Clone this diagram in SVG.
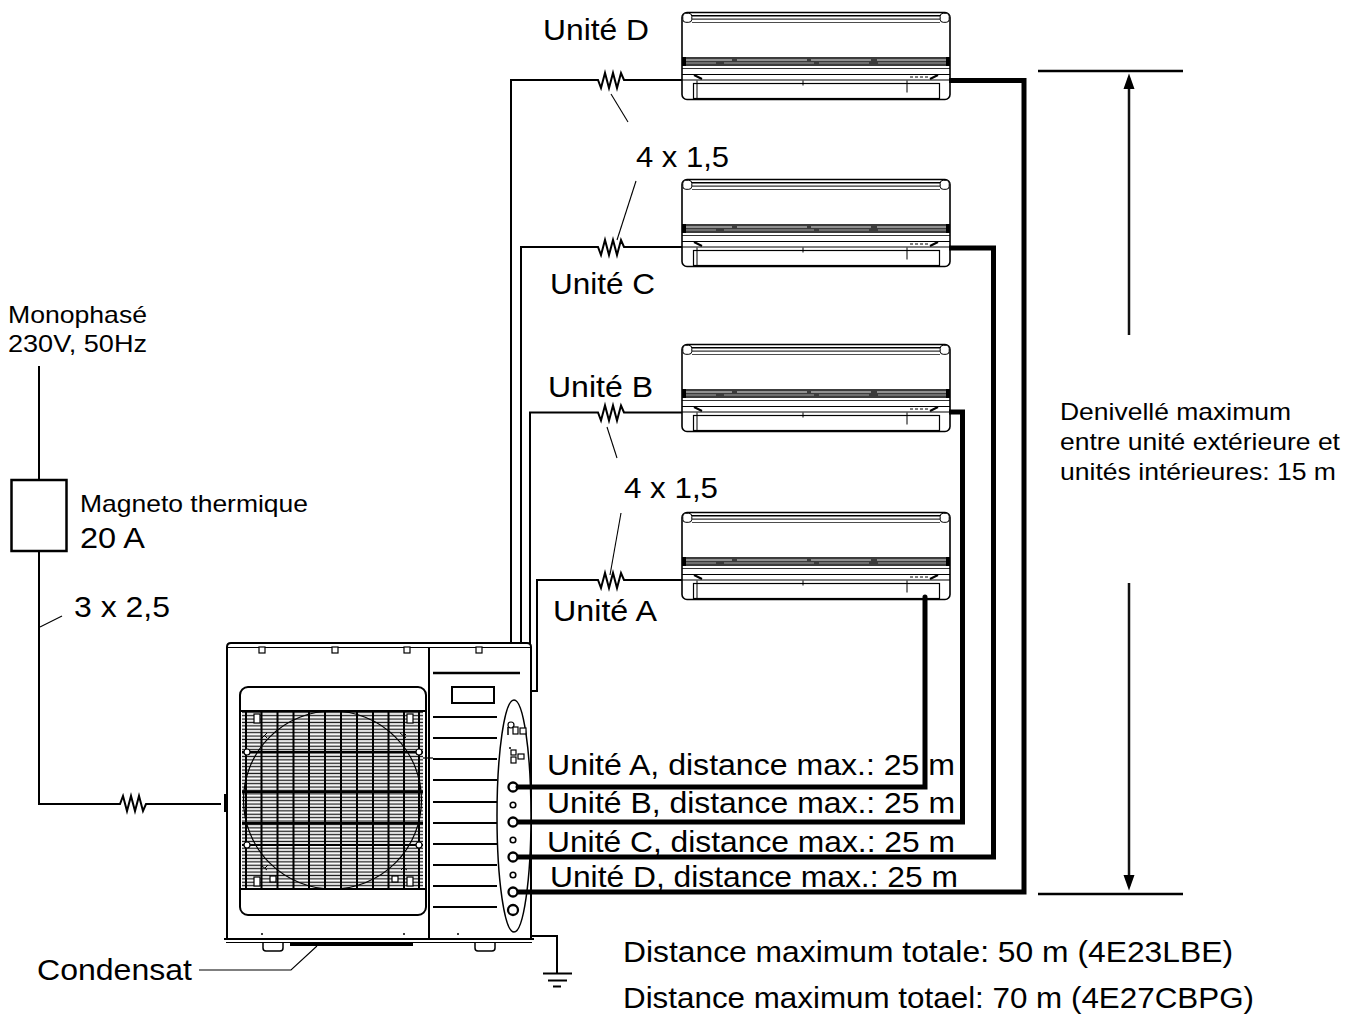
<svg xmlns="http://www.w3.org/2000/svg" xmlns:xlink="http://www.w3.org/1999/xlink" width="1361" height="1017" viewBox="0 0 1361 1017">
<style>
  .t { font-family: "Liberation Sans", Arial, Helvetica, sans-serif; fill: #000; }
  .lg { font-size: 29px; }
  .sm { font-size: 24px; }
  .wire { fill: none; stroke: #000; stroke-width: 2; stroke-linejoin: miter; }
  .pipe { fill: none; stroke: #000; stroke-width: 5; stroke-linejoin: miter; }
  .lead { fill: none; stroke: #000; stroke-width: 1.1; }
  .ln { fill: none; stroke: #000; }
  .wf { fill: #fff; stroke: #000; }
</style>
<defs>
  <marker id="arrowhead" markerUnits="userSpaceOnUse" markerWidth="16" markerHeight="12" viewBox="0 0 16 12" refX="11" refY="6" orient="auto">
    <path d="M0,0.5 L15.5,6 L0,11.5 Z" fill="#000"/>
  </marker>
  <pattern id="slats" patternUnits="userSpaceOnUse" x="0" y="711" width="10" height="3.4">
    <rect x="0" y="0.6" width="10" height="1.3" fill="#1a1a1a"/>
  </pattern>

  <!-- wall-mounted split unit, origin at top-left corner -->
  <g id="split-unit">
    <rect x="0" y="0" width="268" height="87" rx="5" class="wf" stroke-width="1.6"/>
    <rect x="0.8" y="0.8" width="9" height="9" rx="3" class="wf" stroke-width="1"/>
    <rect x="258.2" y="0.8" width="9" height="9" rx="3" class="wf" stroke-width="1"/>
    <line x1="10" y1="3.2" x2="258" y2="3.2" class="ln" stroke-width="1.5"/>
    <line x1="10" y1="6.6" x2="258" y2="6.6" class="ln" stroke-width="1"/>
    <line x1="10" y1="10" x2="258" y2="10" class="ln" stroke-width="0.7"/>
    <!-- dark trim band -->
    <rect x="0" y="44.5" width="268" height="9" fill="#3c3c3c"/>
    <line x1="4" y1="47.5" x2="264" y2="47.5" stroke="#e6e6e6" stroke-width="1" stroke-dasharray="46 5 70 4 60 6 75"/>
    <line x1="4" y1="50.5" x2="264" y2="50.5" stroke="#bdbdbd" stroke-width="0.8" stroke-dasharray="30 8 90 5 50 9 70"/>
    <rect x="0" y="44.5" width="4" height="9" fill="#000"/>
    <rect x="264" y="44.5" width="4" height="9" fill="#000"/>
    <line x1="0" y1="56" x2="268" y2="56" class="ln" stroke-width="0.8"/>
    <!-- lower lip and louvre -->
    <line x1="0" y1="62" x2="268" y2="62" class="ln" stroke-width="1.2"/>
    <line x1="0" y1="67.5" x2="268" y2="67.5" class="ln" stroke-width="1.2"/>
    <path d="M12,62.5 L20,66.5 M248,66.5 L256,62.5" class="ln" stroke-width="2"/>
    <rect x="11.5" y="71" width="246" height="15" fill="none" class="ln" stroke-width="1.2"/>
    <line x1="15" y1="68" x2="15" y2="86" class="ln" stroke-width="1"/>
    <line x1="121" y1="68" x2="121" y2="73" class="ln" stroke-width="1"/>
    <line x1="225" y1="68" x2="225" y2="80" class="ln" stroke-width="1"/>
    <path d="M228,64.5 h3 m2,0 h3 m2,0 h3 m2,0 h3" class="ln" stroke-width="1"/>
  </g>
</defs>

<rect width="1361" height="1017" fill="#fff"/>

<!-- mains supply and circuit breaker -->
<g id="supply">
  <text class="t sm" x="8" y="323" textLength="139" lengthAdjust="spacingAndGlyphs">Monophasé</text>
  <text class="t sm" x="8" y="352" textLength="139" lengthAdjust="spacingAndGlyphs">230V, 50Hz</text>
</g>
<g id="breaker">
  <rect x="11.5" y="480" width="55" height="71" fill="#fff" stroke="#000" stroke-width="2.5"/>
  <text class="t sm" x="80" y="512" textLength="228" lengthAdjust="spacingAndGlyphs">Magneto thermique</text>
  <text class="t lg" x="80" y="548" textLength="65" lengthAdjust="spacingAndGlyphs">20 A</text>
</g>

<!-- indoor units -->
<g id="unit-d">
  <use xlink:href="#split-unit" transform="translate(682,12.5)"/>
  <text class="t lg" x="543" y="40" textLength="106" lengthAdjust="spacingAndGlyphs">Unité D</text>
</g>
<g id="unit-c">
  <use xlink:href="#split-unit" transform="translate(682,179.5)"/>
  <line x1="831" y1="266" x2="939" y2="266" class="ln" stroke-width="1.5"/>
  <text class="t lg" x="550" y="294" textLength="105" lengthAdjust="spacingAndGlyphs">Unité C</text>
</g>
<g id="unit-b">
  <use xlink:href="#split-unit" transform="translate(682,344.5)"/>
  <text class="t lg" x="548" y="397" textLength="105" lengthAdjust="spacingAndGlyphs">Unité B</text>
</g>
<g id="unit-a">
  <use xlink:href="#split-unit" transform="translate(682,512.5)"/>
  <text class="t lg" x="553" y="621" textLength="104" lengthAdjust="spacingAndGlyphs">Unité A</text>
</g>

<!-- outdoor unit -->
<g id="outdoor-unit">
  <path d="M227,939 V647 Q227,643 231,643 H527 Q531,643 531,647 V939" class="wf" stroke-width="2"/>
  <line x1="228" y1="647.5" x2="530" y2="647.5" class="ln" stroke-width="1"/>
  <line x1="429" y1="647" x2="429" y2="939" class="ln" stroke-width="2"/>
  <!-- top screws -->
  <g class="wf" stroke-width="1.2">
    <rect x="259" y="647" width="6" height="6"/>
    <rect x="332" y="647" width="6" height="6"/>
    <rect x="404" y="647" width="6" height="6"/>
    <rect x="476" y="647" width="6" height="6"/>
  </g>
  <!-- base and feet -->
  <line x1="224" y1="939" x2="534" y2="939" class="ln" stroke-width="2"/>
  <line x1="226" y1="942.5" x2="532" y2="942.5" class="ln" stroke-width="1.2"/>
  <path d="M263,943 V948 Q263,951 266,951 H280 Q283,951 283,948 V943" class="wf" stroke-width="1.5"/>
  <path d="M475,943 V948 Q475,951 478,951 H492 Q495,951 495,948 V943" class="wf" stroke-width="1.5"/>
  <line x1="290" y1="944.5" x2="413" y2="944.5" class="ln" stroke-width="3"/>
  <circle cx="262" cy="934" r="1" fill="#000"/>
  <circle cx="404" cy="934" r="1" fill="#000"/>
  <circle cx="458" cy="934" r="1" fill="#000"/>
  <!-- fan guard -->
  <rect x="240" y="687" width="186" height="228" rx="8" class="wf" stroke-width="2"/>
  <rect x="242" y="711" width="181" height="178" fill="url(#slats)"/>
  <line x1="240" y1="711" x2="426" y2="711" class="ln" stroke-width="2"/>
  <line x1="240" y1="889" x2="426" y2="889" class="ln" stroke-width="2"/>
  <path d="M246,711 V889 M261.5,711 V889 M277.5,711 V889 M293.5,711 V889 M309,711 V889 M325,711 V889 M341,711 V889 M357,711 V889 M373,711 V889 M388.5,711 V889 M404,711 V889 M419,711 V889" class="ln" stroke-width="2"/>
  <path d="M242,752 H423 M242,792 H423 M242,823 H423 M242,845 H423" class="ln" stroke-width="1.8"/>
  <circle cx="332.5" cy="800" r="89" class="ln" stroke-width="1.2"/>
  <g class="wf" stroke-width="1.2">
    <rect x="254" y="714" width="6" height="9"/>
    <rect x="407" y="714" width="6" height="9"/>
    <rect x="254" y="877" width="6" height="9"/>
    <rect x="407" y="877" width="6" height="9"/>
    <rect x="270" y="876" width="6" height="6"/>
    <rect x="392" y="876" width="6" height="6"/>
    <circle cx="247" cy="752" r="3"/>
    <circle cx="419" cy="752" r="3"/>
    <circle cx="247" cy="845" r="3"/>
    <circle cx="419" cy="845" r="3"/>
  </g>
  <path d="M262,738 l5,-5 m-3,2 l3,3 M400,733 l6,5 m-3,-1 l3,-3 M262,866 l5,4 m-2,-2 l3,-3 M401,870 l5,-5 m-2,3 l3,2" class="ln" stroke-width="1"/>
  <line x1="423" y1="758" x2="433" y2="758" class="ln" stroke-width="1.2"/>
  <!-- side panel louvres and label -->
  <line x1="433" y1="673" x2="520" y2="673" class="ln" stroke-width="2.5"/>
  <rect x="452" y="687" width="42" height="16" class="wf" stroke-width="2"/>
  <path d="M433,717 H497 M433,738 H497 M433,759 H497 M433,780 H497 M433,802 H497 M433,823 H497 M433,844 H497 M433,865 H497 M433,886 H497 M433,907 H497" class="ln" stroke-width="2"/>
  <!-- service valve cover -->
  <ellipse cx="514" cy="816" rx="17" ry="116" class="wf" stroke-width="1.5"/>
  <g class="wf" stroke-width="1.2">
    <circle cx="511" cy="725" r="3"/>
    <rect x="513" y="727" width="5" height="7"/>
    <rect x="520" y="728" width="6" height="6"/>
    <rect x="511" y="750" width="5" height="5"/>
    <rect x="511" y="757" width="5" height="6"/>
    <rect x="518" y="754" width="6" height="5"/>
  </g>
  <path d="M508,727 v8 M509,748 h2" class="ln" stroke-width="1.5"/>
  <g class="wf" stroke-width="2.3">
    <circle cx="513" cy="787" r="4.5"/>
    <circle cx="513" cy="805" r="2.8" stroke-width="1.6"/>
    <circle cx="513" cy="822" r="4.5"/>
    <circle cx="513" cy="840" r="2.8" stroke-width="1.6"/>
    <circle cx="513" cy="857" r="4.5"/>
    <circle cx="513" cy="875" r="2.8" stroke-width="1.6"/>
    <circle cx="513" cy="892" r="4.5"/>
    <circle cx="513" cy="910" r="5"/>
  </g>
  <line x1="225" y1="794" x2="225" y2="812" class="ln" stroke-width="2"/>
</g>

<!-- wiring, refrigerant lines, leaders and dimension -->
<g id="connectors">
  <!-- mains cable through breaker to outdoor unit -->
  <path class="wire" d="M39,366 V480 M39,551 V804 H120 l3,-8 l4,15 l4,-15 l4,15 l4,-15 l4,15 l3,-7 H221"/>
  <!-- interconnection cables outdoor to indoor -->
  <path class="wire" d="M511,644 V80 H598 l3,8 l4,-15 l4,15 l4,-15 l4,15 l4,-15 l3,7 H682"/>
  <path class="wire" d="M521,644 V247 H598 l3,8 l4,-15 l4,15 l4,-15 l4,15 l4,-15 l3,7 H682"/>
  <path class="wire" d="M530,644 V412.5 H598 l3,8 l4,-15 l4,15 l4,-15 l4,15 l4,-15 l3,7 H682"/>
  <path class="wire" d="M531,691 H537 V580 H598 l3,8 l4,-15 l4,15 l4,-15 l4,15 l4,-15 l3,7 H682"/>
  <!-- refrigerant pipes -->
  <path class="pipe" d="M518,787 H925 V597" stroke-linecap="round"/>
  <path class="pipe" d="M518,822 H962.5 V412 H949"/>
  <path class="pipe" d="M518,857 H993.5 V248 H949"/>
  <path class="pipe" d="M518,892 H1024 V80.5 H949"/>
  <!-- earth -->
  <path class="wire" d="M531,936 H557 V973"/>
  <path class="ln" stroke-width="2.2" d="M543,973.5 H572 M548,980.5 H567 M553,986.5 H561"/>
  <!-- leaders -->
  <path class="lead" d="M40,627 L62,616"/>
  <path class="lead" d="M611,94 L628,122"/>
  <path class="lead" d="M636,181 L617,240"/>
  <path class="lead" d="M607,427 L617,458"/>
  <path class="lead" d="M621,513 L610,575"/>
  <path class="lead" d="M199,970 H291 L317,946"/>
  <!-- height difference dimension -->
  <path class="ln" stroke-width="2.5" d="M1038,71 H1183 M1038,894 H1183"/>
  <line x1="1129" y1="335" x2="1129" y2="78" stroke="#111" stroke-width="2.5" marker-end="url(#arrowhead)"/>
  <line x1="1129" y1="583" x2="1129" y2="886" stroke="#111" stroke-width="2.5" marker-end="url(#arrowhead)"/>
</g>

<!-- annotations -->
<g id="labels">
  <text class="t lg" x="636" y="167" textLength="93" lengthAdjust="spacingAndGlyphs">4 x 1,5</text>
  <text class="t lg" x="624" y="498" textLength="94" lengthAdjust="spacingAndGlyphs">4 x 1,5</text>
  <text class="t lg" x="74" y="617" textLength="96" lengthAdjust="spacingAndGlyphs">3 x 2,5</text>
  <text class="t sm" x="1060" y="420" textLength="231" lengthAdjust="spacingAndGlyphs">Denivellé maximum</text>
  <text class="t sm" x="1060" y="450" textLength="280" lengthAdjust="spacingAndGlyphs">entre unité extérieure et</text>
  <text class="t sm" x="1060" y="480" textLength="276" lengthAdjust="spacingAndGlyphs">unités intérieures: 15 m</text>
  <text class="t lg" x="547" y="775" textLength="408" lengthAdjust="spacingAndGlyphs">Unité A, distance max.: 25 m</text>
  <text class="t lg" x="547" y="813" textLength="408" lengthAdjust="spacingAndGlyphs">Unité B, distance max.: 25 m</text>
  <text class="t lg" x="547" y="852" textLength="408" lengthAdjust="spacingAndGlyphs">Unité C, distance max.: 25 m</text>
  <text class="t lg" x="550" y="887" textLength="408" lengthAdjust="spacingAndGlyphs">Unité D, distance max.: 25 m</text>
  <text class="t lg" x="37" y="980" textLength="155" lengthAdjust="spacingAndGlyphs">Condensat</text>
  <text class="t lg" x="623" y="962" textLength="610" lengthAdjust="spacingAndGlyphs">Distance maximum totale: 50 m (4E23LBE)</text>
  <text class="t lg" x="623" y="1008" textLength="631" lengthAdjust="spacingAndGlyphs">Distance maximum totael: 70 m (4E27CBPG)</text>
</g>
</svg>
